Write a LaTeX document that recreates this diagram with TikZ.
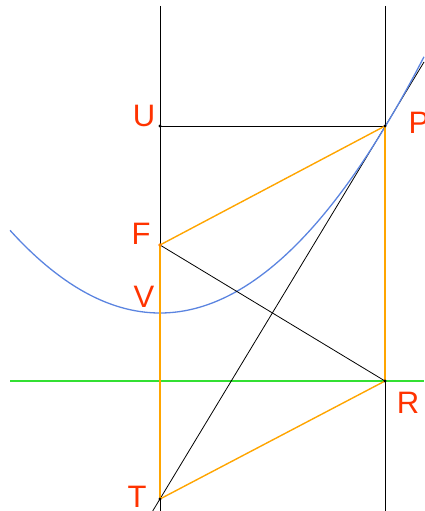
\documentclass[tikz,border=0pt]{standalone}
\usepackage{fontspec}
\setmainfont{Liberation Sans}
\definecolor{lbl}{HTML}{FF3300}
\definecolor{seg}{HTML}{FFA500}
\definecolor{curve}{HTML}{5B84E0}
\definecolor{dirx}{HTML}{33E033}
\begin{document}
\begin{tikzpicture}[x=1pt,y=-1pt,
  thin line/.style={black, line width=0.8pt},
  orange seg/.style={seg, line width=1.4pt},
  ptlabel/.style={text=lbl, font=\fontsize{31}{31}\selectfont, inner sep=0pt},
  dot/.style={fill=black, draw=none}]
\useasboundingbox (0,0) rectangle (424,511);
% key points
\coordinate (U) at (160,126);
\coordinate (P) at (385,126);
\coordinate (F) at (160,245);
\coordinate (V) at (160,313);
\coordinate (R) at (385,381);
\coordinate (T) at (160,499);
\coordinate (A1) at (160,6);
\coordinate (A2) at (160,511);
\coordinate (B1) at (385,6);
\coordinate (B2) at (385,511);
\coordinate (D1) at (10,381);
\coordinate (D2) at (424,381);
\coordinate (L1) at (152.7,511);
\coordinate (L2) at (424,62);
% directrix
\draw[dirx, line width=1.3pt] (D1) -- (D2);
% verticals
\draw[thin line] (A1) -- (A2);
\draw[thin line] (B1) -- (B2);
% tangent
\draw[thin line] (L1) -- (L2);
% parabola
\draw[curve, line width=1.3pt] plot[domain=10:424, samples=120, smooth] (\x, {313 - ((\x-160)/16.4924)^2});
% black segments
\draw[thin line] (U) -- (P);
\draw[thin line] (F) -- (R);
% orange segments
\draw[orange seg] (F) -- (P);
\draw[orange seg] (F) -- (T);
\draw[orange seg] (T) -- (R);
\draw[orange seg] (P) -- (R);
% dots
\foreach \p in {U,P,R,T} \fill[dot] (\p) circle (1.6);
\fill[seg!80!red] (F) circle (1.8);
% labels
\node[ptlabel] (lU) at (144,116) {U};
\node[ptlabel] (lP) at (419,123) {P};
\node[ptlabel] (lF) at (141,234) {F};
\node[ptlabel] (lV) at (144,297) {V};
\node[ptlabel] (lR) at (408,403) {R};
\node[ptlabel] (lT) at (137,497) {T};
\end{tikzpicture}
\end{document}
